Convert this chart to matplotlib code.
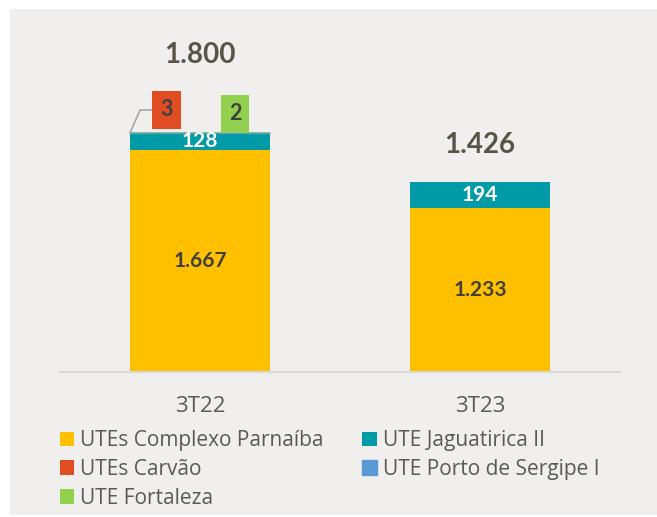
import matplotlib
matplotlib.use("Agg")
import matplotlib.pyplot as plt
from matplotlib.patches import Rectangle
import numpy as np

plt.rcParams["font.family"] = ["Lato", "DejaVu Sans"]

periods = ["3T22", "3T23"]
parnaiba = [1667, 1233]
jaguatirica = [128, 194]
porto = [0, np.nan]          # only a hairline on 3T22
carvao = [3, 0]
fortaleza = [2, 0]
totals = [1800, 1426]

C_PARN = "#FFC000"
C_JAG = "#009BA6"
C_PORTO = "#5B9BD5"
C_CARV = "#E04D22"
C_FORT = "#92D050"
C_BG = "#F0EFED"
C_TOTAL = "#595448"
C_DARK = "#404040"
C_TEXT = "#595959"
TEXT_FONT = ["Open Sans", "DejaVu Sans"]


def fmt(v):
    return f"{v:,}".replace(",", ".")


fig = plt.figure(figsize=(6.57, 5.17), dpi=100)
fig.patches.append(Rectangle((10 / 657, 2 / 517), 647 / 657, 506 / 517,
                             transform=fig.transFigure, facecolor=C_BG,
                             edgecolor="none", zorder=-5))

ax = fig.add_axes([60 / 657, 145 / 517, 560 / 657, 333 / 517])
ax.set_facecolor("none")
x = np.arange(len(periods))
w = 0.5

b1 = np.array(parnaiba, float)
b2 = b1 + np.array(jaguatirica, float)
b3 = b2 + np.nan_to_num(porto)
b4 = b3 + np.array(carvao, float)

ax.bar(x, parnaiba, w, color=C_PARN, label="UTEs Complexo Parnaíba")
ax.bar(x, jaguatirica, w, bottom=b1, color=C_JAG, label="UTE Jaguatirica II")
ax.bar(x, carvao, w, bottom=b3, color=C_CARV, label="UTEs Carvão")
ax.bar(x, fortaleza, w, bottom=b4, color=C_FORT, label="UTE Fortaleza")
ax.bar(x, porto, w, bottom=b2, color=C_PORTO, edgecolor=C_PORTO,
       linewidth=1.0, label="UTE Porto de Sergipe I")

# total label sits higher on 3T22 to clear the callouts
total_gap = [580, 280]
for i in range(len(periods)):
    ax.text(x[i], parnaiba[i] / 2, fmt(parnaiba[i]), ha="center", va="center",
            fontsize=15, fontweight="bold", color=C_DARK)
    ax.text(x[i], b1[i] + jaguatirica[i] / 2, fmt(jaguatirica[i]),
            ha="center", va="center", fontsize=15, fontweight="bold",
            color="white")
    ax.text(x[i], totals[i] + total_gap[i], fmt(totals[i]), ha="center",
            va="center", fontsize=20, fontweight="bold", color=C_TOTAL,
            clip_on=False)

# callouts for the small segments of 3T22
ax.plot([-w / 2, -0.214, -0.171], [b2[0], 1967, 1967], color="#A6A6A6",
        lw=1.2, zorder=1)
ax.text(-0.121, 1967, str(carvao[0]), ha="center", va="center", fontsize=15.5,
        fontweight="bold", color=C_DARK,
        bbox=dict(boxstyle="square,pad=0.38", facecolor=C_CARV, edgecolor="none"))
ax.text(0.125, 1937, str(fortaleza[0]), ha="center", va="center", fontsize=15.5,
        fontweight="bold", color=C_DARK,
        bbox=dict(boxstyle="square,pad=0.38", facecolor=C_FORT, edgecolor="none"))

ax.set_xlim(-0.5, 1.5)
ax.set_ylim(0, 2500)
ax.set_yticks([])
ax.set_xticks(x)
ax.set_xticklabels(periods, fontsize=16, color=C_TEXT, family=TEXT_FONT)
ax.tick_params(axis="x", length=0, pad=17)
for s in ("top", "right", "left"):
    ax.spines[s].set_visible(False)
ax.spines["bottom"].set_color("#D9D9D9")
ax.spines["bottom"].set_linewidth(1.5)

h, l = ax.get_legend_handles_labels()
order = [0, 2, 3, 1, 4]
fig.legend([h[i] for i in order], [l[i] for i in order], ncol=2,
           loc="upper left", bbox_to_anchor=(60 / 657, 1 - 430 / 517),
           frameon=False, prop=dict(family=TEXT_FONT, size=15),
           handlelength=0.68, handleheight=0.68, handletextpad=0.3,
           columnspacing=1.85, labelspacing=0.38,
           labelcolor=C_TEXT, borderaxespad=0, borderpad=0)

fig.savefig("out.png", dpi=100)
